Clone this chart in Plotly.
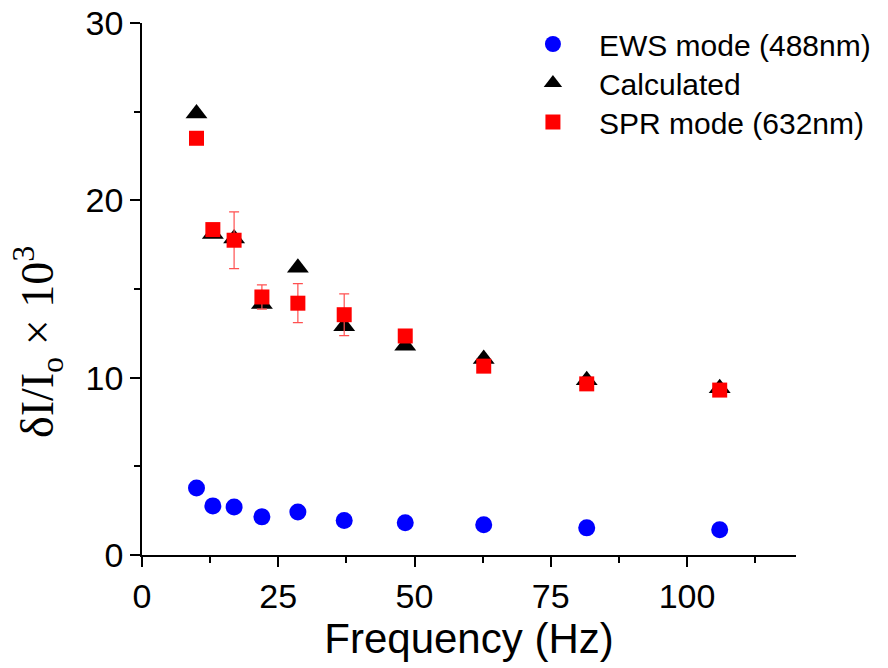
import plotly.graph_objects as go

freq = [10, 13, 16.9, 22, 28.6, 37.1, 48.3, 62.7, 81.6, 106]
ews = [3.78, 2.77, 2.71, 2.15, 2.43, 1.95, 1.82, 1.70, 1.53, 1.42]
calc = [24.9, 18.1, 17.85, 14.15, 16.2, 12.9, 11.8, 11.05, 9.85, 9.4]
spr = [23.5, 18.35, 17.75, 14.55, 14.2, 13.55, 12.35, 10.65, 9.65, 9.3]
spr_err = [0, 0, 1.6, 0.68, 1.1, 1.18, 0, 0, 0, 0]

names = ["EWS mode (488nm)", "Calculated", "SPR mode (632nm)"]
x_ticks = [0, 25, 50, 75, 100]
y_ticks = [0, 10, 20, 30]

fig = go.Figure()
fig.add_trace(go.Scatter(x=freq, y=ews, mode="markers", name=names[0], legend="legend",
                         marker=dict(symbol="circle", size=17, color="#0000FF")))
fig.add_trace(go.Scatter(x=freq, y=calc, mode="markers", name=names[1], legend="legend2",
                         marker=dict(symbol="triangle-up", size=19, color="#000000")))
fig.add_trace(go.Scatter(x=freq, y=spr, mode="markers", name=names[2], legend="legend3",
                         marker=dict(symbol="square", size=15, color="#FF0000"),
                         error_y=dict(type="data", array=spr_err, visible=True,
                                      color="#FF5050", thickness=1.2, width=5)))

sans = "Liberation Sans, Arial, sans-serif"
tickfont = dict(family=sans, size=34, color="black")
legfont = dict(family=sans, size=30, color="black")

def leg(y):
    return dict(x=0.558, y=y, xanchor="left", yanchor="middle", font=legfont,
                bgcolor="rgba(0,0,0,0)", itemwidth=82, borderwidth=0)

fig.update_layout(
    width=888, height=668,
    margin=dict(l=142, r=92, t=23, b=113),
    paper_bgcolor="white", plot_bgcolor="white",
    showlegend=True,
    legend=leg(0.9605),
    legend2=leg(0.8872),
    legend3=leg(0.8139),
    xaxis=dict(range=[0, 120], tickvals=x_ticks, ticktext=[str(v) for v in x_ticks],
               showgrid=False, zeroline=False, showline=True, linecolor="black", linewidth=1.8,
               ticks="outside", ticklen=10, tickwidth=1.8, tickcolor="black",
               tickfont=tickfont,
               minor=dict(dtick=12.5, tick0=0, ticks="outside", ticklen=6, tickwidth=1.8, tickcolor="black"),
               title=dict(text="Frequency (Hz)", font=dict(family=sans, size=42, color="black"),
                          standoff=6),
               automargin=False),
    yaxis=dict(range=[0, 30], tickvals=y_ticks, ticktext=[str(v) for v in y_ticks],
               showgrid=False, zeroline=False, showline=True, linecolor="black", linewidth=1.8,
               ticks="outside", ticklen=10, tickwidth=1.8, tickcolor="black",
               tickfont=tickfont,
               minor=dict(dtick=5, tick0=0, ticks="outside", ticklen=6, tickwidth=1.8, tickcolor="black"),
               automargin=False),
    annotations=[dict(text="δI/I<sub>o</sub> × 10<sup>3</sup>", textangle=-90,
                      xref="paper", yref="paper", x=-0.159, y=0.4004,
                      xanchor="center", yanchor="middle", showarrow=False,
                      font=dict(family="Liberation Serif, Times New Roman, serif", size=46, color="black"))],
)

fig.write_html("out.html")
